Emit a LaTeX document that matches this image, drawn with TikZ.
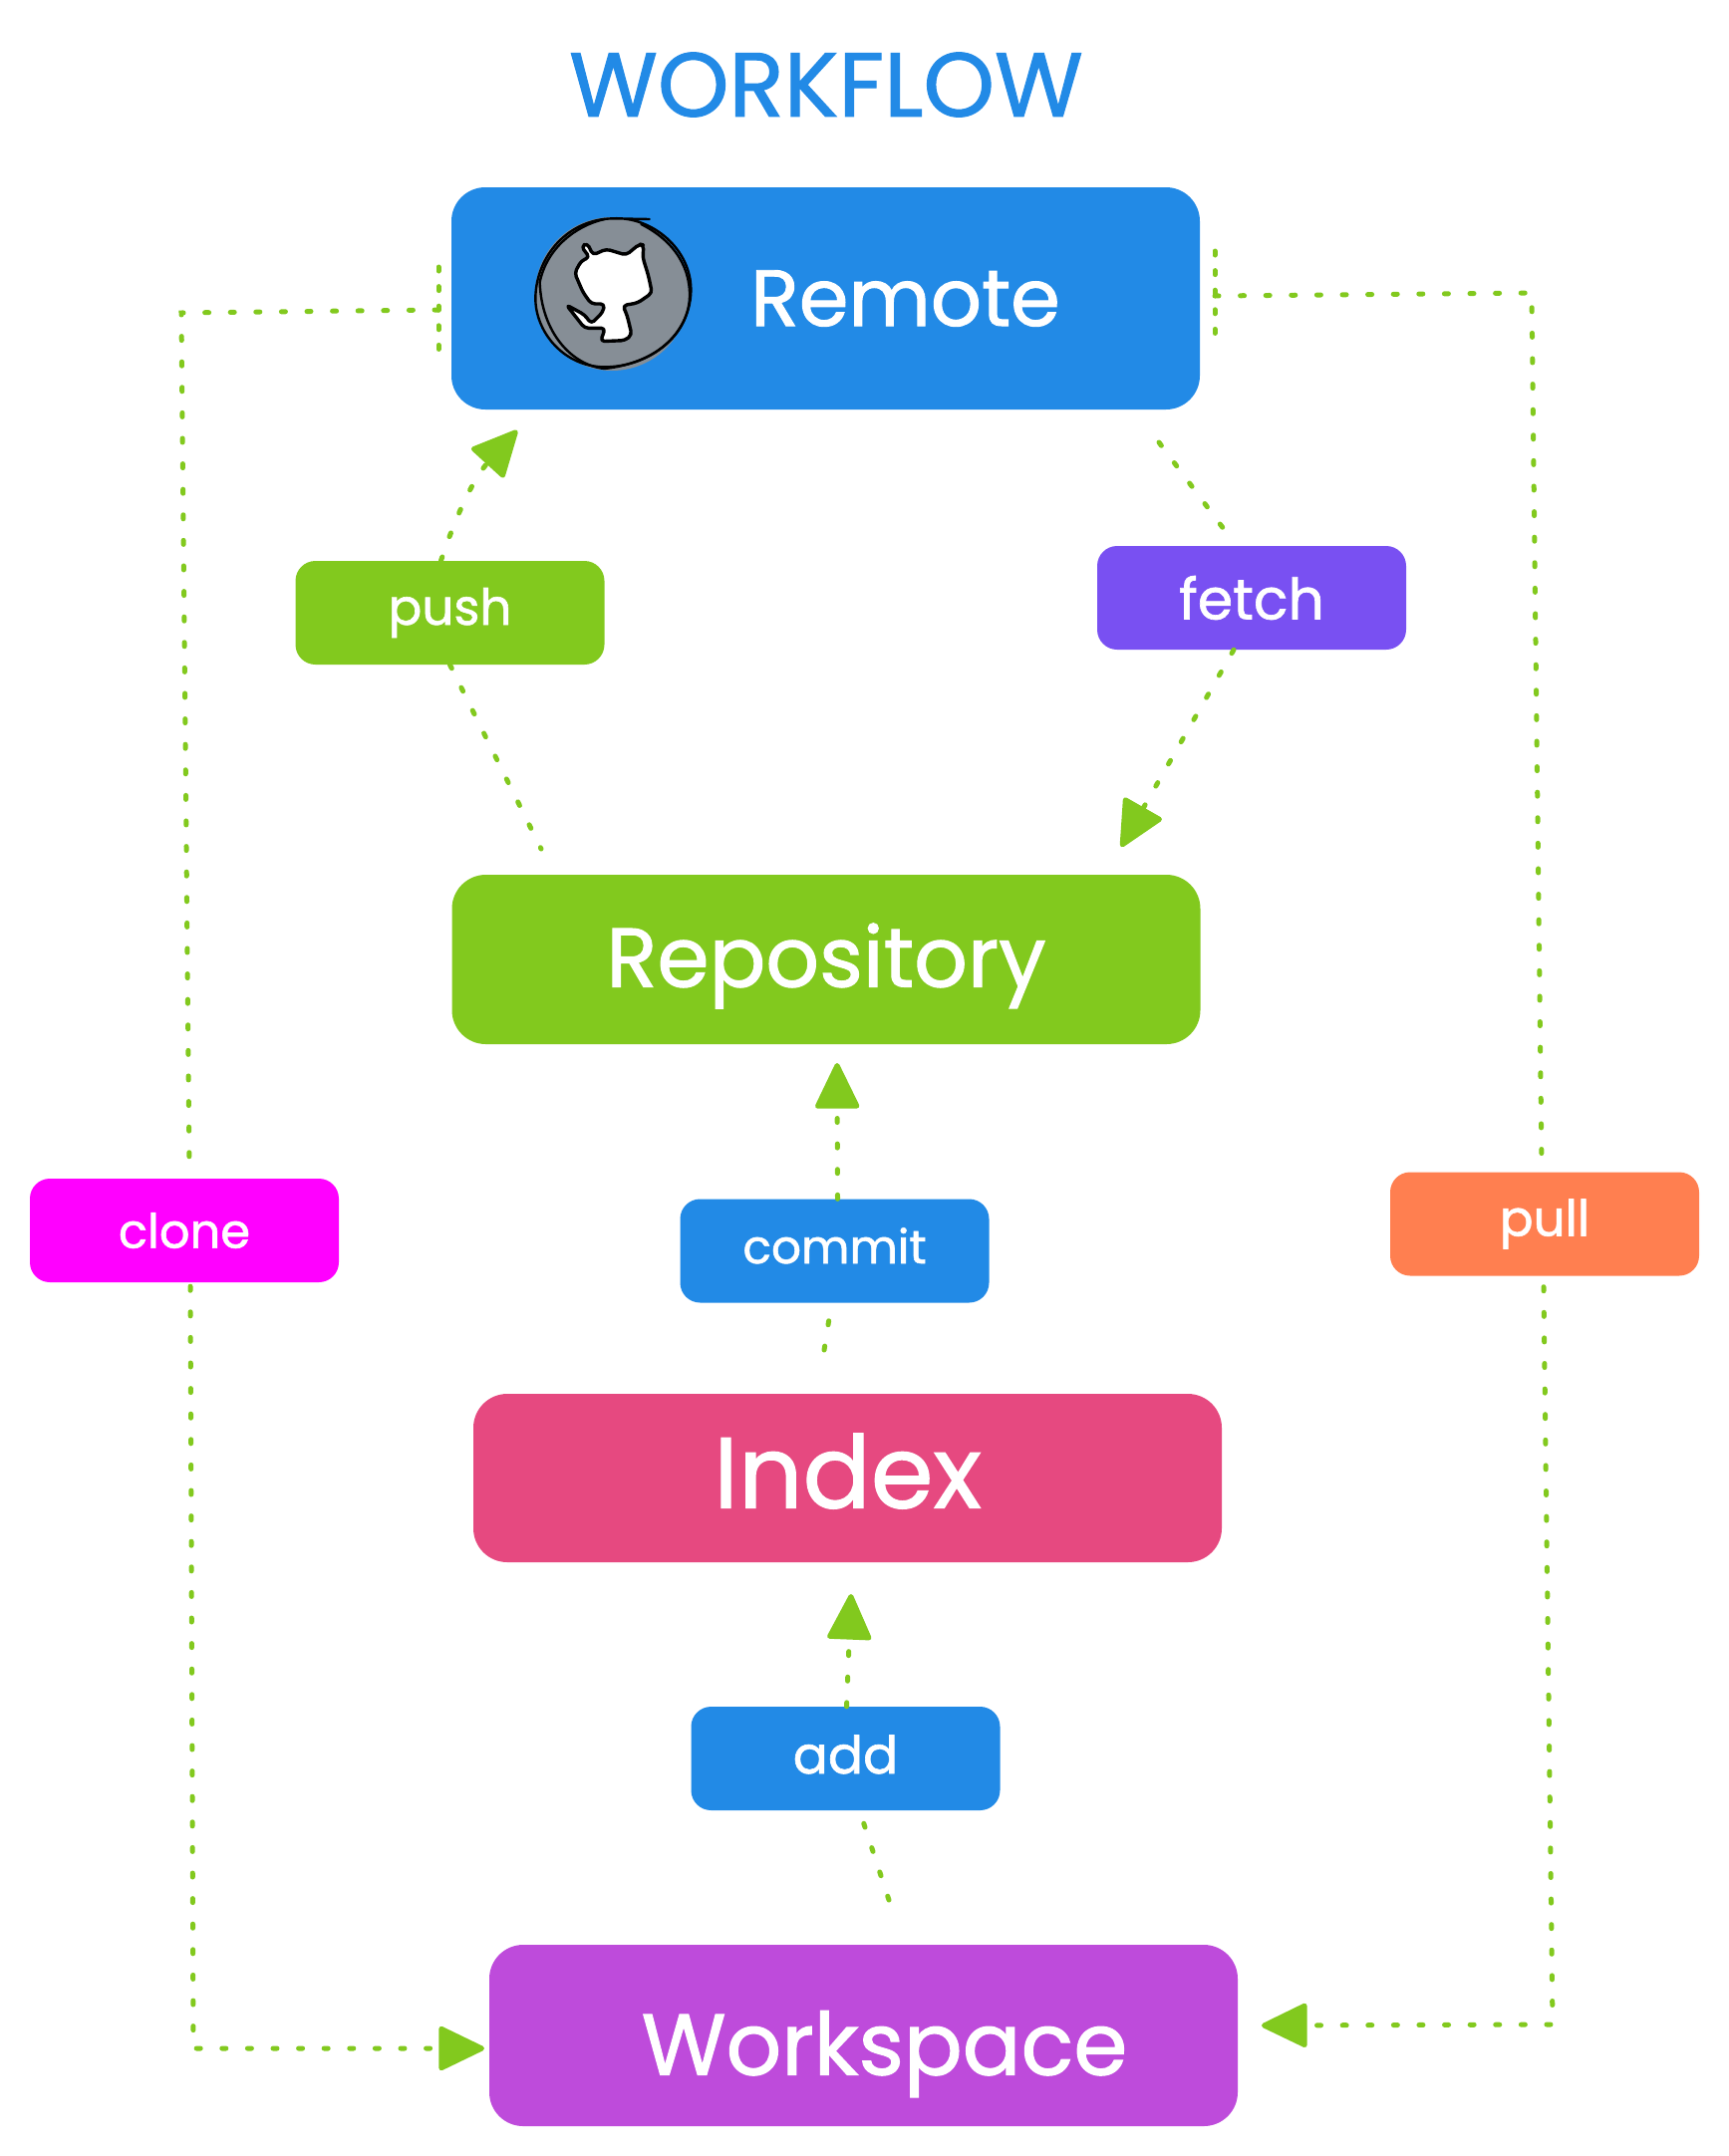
\documentclass[tikz,border=0pt]{standalone}
\usepackage{fontspec}
\setmainfont{Poppins}
\newfontface\flowface{Poppins}[FakeBold=1.2]
\usetikzlibrary{arrows.meta}
\definecolor{flowblue}{HTML}{228AE6}
\definecolor{flowgreen}{HTML}{82C91E}
\definecolor{flowviolet}{HTML}{7950F2}
\definecolor{flowpink}{HTML}{E64980}
\definecolor{flowgrape}{HTML}{BE4BDB}
\definecolor{flowcoral}{HTML}{FF7F50}
\definecolor{flowmagenta}{HTML}{FF00FF}
\definecolor{flowgray}{HTML}{868E96}
\newcommand{\sized}[1]{\fontsize{#1}{#1}\flowface}
\tikzset{
  stagebox/.style={fill=#1, text=white, rounded corners=34pt, minimum width=751pt, inner sep=0pt, font=\sized{88}},
  cmdbox/.style={fill=#1, text=white, rounded corners=20pt, minimum width=310pt, minimum height=104pt, inner sep=0pt, font=\sized{50}},
  flow/.style={flowgreen, line width=5pt, line cap=round, dash pattern=on 4pt off 21.6pt},
  flowtap/.style={flow, dash pattern=on 4pt off 15.6pt},
  flowhead/.style={flow, -{Triangle[length=49pt,width=46pt,round]}},
  sketch/.style={black, line width=2.4pt, line cap=round, line join=round}
}
\begin{document}
\begin{tikzpicture}[x=1pt,y=-1pt]
\useasboundingbox (0,0) rectangle (1735,2164);
\node[text=flowblue, font=\sized{91}] (title) at (829,85) {WORKFLOW};
% stages
\node[stagebox=flowblue, minimum height=223pt, font=\sized{80}] (remote) at (828.5,299.5) {\hspace*{160pt}Remote};
\node[stagebox=flowgreen, minimum height=170pt, font=\sized{84}, text height=73pt, text depth=18pt] (repository) at (829,963) {Repository};
\node[stagebox=flowpink, minimum height=169pt, font=\sized{101}, text height=61pt, text depth=1pt] (index) at (850.5,1483.5) {Index};
\node[stagebox=flowgrape, minimum height=182pt, font=\sized{87}, text height=97pt, text depth=18pt] (workspace) at (866.5,2043) {\hspace*{42pt}Workspace};
% commands
\node[cmdbox=flowgreen] (push) at (451.5,615) {push};
\node[cmdbox=flowviolet, font=\sized{57}] (fetch) at (1256,600) {fetch};
\node[cmdbox=flowblue, font=\sized{47}, text height=25pt, text depth=0pt] (commit) at (837.5,1255.5) {commit};
\node[cmdbox=flowblue, font=\sized{52}, text height=30pt, text depth=0pt] (add) at (848.5,1765) {add};
\node[cmdbox=flowmagenta, font=\sized{48}] (clone) at (185,1235) {clone};
\node[cmdbox=flowcoral] (pull) at (1550,1228.5) {pull};
% free ends
\coordinate (pushstart) at (543,852);
\coordinate (pushtip) at (519,432);
\coordinate (fetchstart) at (1163,444);
\coordinate (fetchin) at (1231,535);
\coordinate (fetchtip) at (1125,850);
\coordinate (commitstart) at (827,1355);
\coordinate (committip) at (840,1067);
\coordinate (addstart) at (892,1907);
\coordinate (addtip) at (854,1600);
\coordinate (clonetap) at (440,311);
\coordinate (clonecorner) at (182,314);
\coordinate (clonelow) at (194,2056);
\coordinate (clonetip) at (486,2056);
\coordinate (pulltap) at (1219,297);
\coordinate (pullcorner) at (1537,294);
\coordinate (pulllow) at (1558,2032);
\coordinate (pulltip) at (1266,2033);
% connectors
\draw[flow] (push.south) -- (pushstart);
\draw[flowhead] ([xshift=-9pt]push.north) to[bend left=12] (pushtip);
\draw[flow] (fetchstart) -- (fetchin);
\draw[flowhead] ([xshift=-18pt]fetch.south) -- (fetchtip);
\draw[flow] (commitstart) -- ([xshift=-3pt]commit.south);
\draw[flowhead] ([xshift=3pt]commit.north) -- (committip);
\draw[flow] (addstart) -- ([xshift=14pt]add.south);
\draw[flowhead] ([xshift=1pt]add.north) -- (addtip);
\draw[flowtap] (440,268) -- (440,358);
\draw[flow] (clonetap) -- (clonecorner) -- ([shift={(5pt,11pt)}]clone.north);
\draw[flowhead] ([shift={(6pt,-4pt)}]clone.south) -- (clonelow) -- (clonetip);
\draw[flowtap] (1219,252) -- (1219,342);
\draw[flow] (pulltap) -- (pullcorner) -- ([shift={(-3pt,6pt)}]pull.north);
\draw[flowhead] ([shift={(-1pt,-11pt)}]pull.south) -- (pulllow) -- (pulltip);
% octocat badge
\fill[flowgray] (614,295) circle (77);
\begin{scope}[shift={(420,170)},x=0.3333pt,y=-0.3333pt]
\draw[sketch] (585,148) .. controls (700,140) and (825,240) .. (820,370) .. controls (815,500) and (700,590) .. (570,595) .. controls (440,600) and (350,490) .. (352,385) .. controls (355,260) and (450,150) .. (585,148) -- (695,150);
\draw[sketch] (670,165) .. controls (770,215) and (825,300) .. (815,400) .. controls (800,510) and (700,585) .. (560,600) .. controls (460,590) and (370,490) .. (365,340) .. controls (385,240) and (470,170) .. (560,150);
\filldraw[sketch, fill=white, line width=3.4pt, rounded corners=4pt] (490,232) -- (508,222) -- (525,258) -- (565,240) -- (625,258) -- (665,225) -- (678,228) -- (675,265) -- (692,320) -- (703,372) -- (660,402) -- (615,410) -- (628,440) -- (642,498) -- (622,515) -- (548,518) -- (562,478) -- (500,478) -- (445,408) -- (500,438) -- (520,465) -- (555,430) -- (560,405) -- (520,405) -- (495,370) -- (470,312) -- (490,275) -- (515,265) -- cycle;
\end{scope}
\end{tikzpicture}
\end{document}
